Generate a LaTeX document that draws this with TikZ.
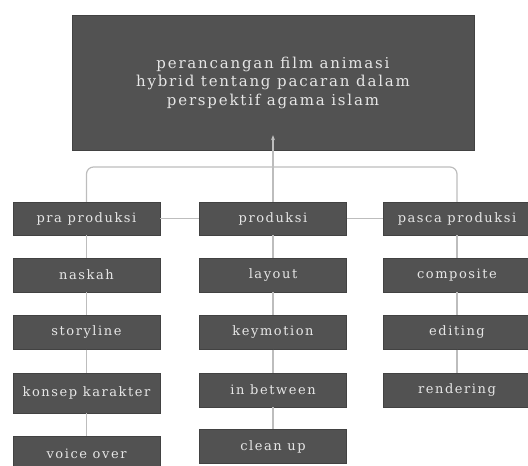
\documentclass[tikz,border=0pt]{standalone}
\usepackage{fontspec}
\setmainfont{DejaVu Serif}[LetterSpace=12]
\usetikzlibrary{arrows.meta}
\definecolor{boxgray}{HTML}{525252}
\definecolor{linegray}{HTML}{BDBDBD}
\definecolor{txtgray}{HTML}{E6E6E6}
\tikzset{
  x=1pt, y=-1pt,
  stepbox/.style={draw=boxgray!80!black, fill=boxgray, text=txtgray, minimum width=147pt, minimum height=34pt, inner sep=0pt, font=\fontsize{13}{15}\selectfont},
  titlebox/.style={draw=boxgray!80!black, fill=boxgray, text=txtgray, minimum width=402pt, minimum height=135pt, align=center, inner sep=0pt, font=\fontsize{15}{18.5}\selectfont},
  conn/.style={draw=linegray, line width=1.2pt}
}
\begin{document}
\begin{tikzpicture}
\useasboundingbox (0,0) rectangle (528,466);
\node[titlebox] (top) at (273,82.5) {perancangan film animasi\\hybrid tentang pacaran dalam\\perspektif agama islam};
\node[stepbox, minimum height=33pt] (pra) at (86.5,218.5) {pra produksi};
\node[stepbox, minimum height=33pt] (prod) at (273,218.5) {produksi};
\node[stepbox, minimum height=33pt] (pasca) at (457,218.5) {pasca produksi};
\node[stepbox] (naskah) at (86.5,275) {naskah};
\node[stepbox] (story) at (86.5,332.5) {storyline};
\node[stepbox, minimum height=40pt] (konsep) at (86.5,393) {konsep karakter};
\node[stepbox] (voice) at (86.5,453.5) {voice over};
\node[stepbox] (layout) at (273,275) {layout};
\node[stepbox] (key) at (273,332.5) {keymotion};
\node[stepbox] (inbet) at (273,390) {in between};
\node[stepbox] (clean) at (273,446.5) {clean up};
\node[stepbox] (comp) at (457,275) {composite};
\node[stepbox] (edit) at (457,332.5) {editing};
\node[stepbox] (render) at (457,390) {rendering};
\coordinate (j) at (273,167);
\draw[conn, rounded corners=7pt] (pra.north) |- (j) -| (pasca.north);
\draw[conn, -{Stealth[length=5pt,width=4pt]}, shorten >=-15pt] (prod.north) -- (top.south);
\draw[conn] (pra.east) -- (prod.west);
\draw[conn] (prod.east) -- (pasca.west);
\draw[conn] (pra.south) -- (naskah.north);
\draw[conn] (naskah.south) -- (story.north);
\draw[conn] (story.south) -- (konsep.north);
\draw[conn] (konsep.south) -- (voice.north);
\draw[conn] (prod.south) -- (layout.north);
\draw[conn] (layout.south) -- (key.north);
\draw[conn] (key.south) -- (inbet.north);
\draw[conn] (inbet.south) -- (clean.north);
\draw[conn] (pasca.south) -- (comp.north);
\draw[conn] (comp.south) -- (edit.north);
\draw[conn] (edit.south) -- (render.north);
\end{tikzpicture}
\end{document}
